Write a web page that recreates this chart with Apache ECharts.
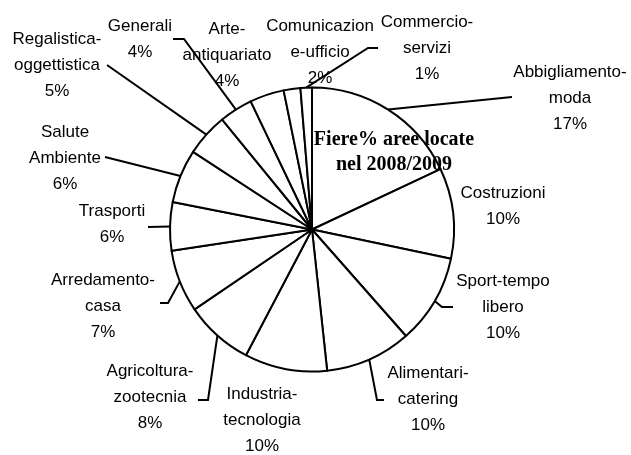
<!DOCTYPE html>
<html><head><meta charset="utf-8">
<script src="https://cdn.jsdelivr.net/npm/echarts@6/dist/echarts.min.js"></script>
<style>html,body{margin:0;padding:0;background:#fff}#c{width:631px;height:455px}</style>
</head><body><div id="c"></div>
<script>
// ---- data ----
const categories = ['Abbigliamento-\nmoda','Costruzioni','Sport-tempo\nlibero','Alimentari-\ncatering','Industria-\ntecnologia','Agricoltura-\nzootecnia','Arredamento-\ncasa','Trasporti','Salute\nAmbiente','Regalistica-\noggettistica','Generali','Arte-\nantiquariato','Comunicazion\ne-ufficio','Commercio-\nservizi'];
const shares = [18.0,10.3,10.2,9.8,9.4,7.8,7.1,5.5,6.1,4.9,3.8,3.9,1.9,1.3];
const pctLabels = ['17%','10%','10%','10%','10%','8%','7%','6%','6%','5%','4%','4%','2%','1%'];
const titleLines = ['Fiere% aree locate','nel 2008/2009'];

// ---- layout ----
const CX = 312, CY = 229.5, R = 142;
const labelBox = [[570,98],[503,206],[503,307],[428,399],[262,420],[150,397],[103,306],[112,224],[65,158],[57,65],[140,39],[227,55],[320,52],[427,48]];
const leader = [[[512,97]], null, [[442,307],[453,307]], [[377,400],[384,400]], null, [[208,400],[198,400]], [[168,303],[160,303]], [[148,227]], [[105,157]], [[107,65]], [[184,39],[173,39]], null, null, [[368,48],[378,48]]];

const total = shares.reduce((a,b)=>a+b,0);
const cum = []; let acc = 0;
shares.forEach(v => { cum.push(acc + v/2); acc += v; });
function rimPoint(i){
  const t = 2*Math.PI*cum[i]/total;
  return [CX + R*Math.sin(t), CY - R*Math.cos(t)];
}

const LABEL_FONT = "'Liberation Sans',Arial,sans-serif";
const chart = echarts.init(document.getElementById('c'), null, {renderer:'canvas'});
chart.setOption({
  backgroundColor: '#fff',
  animation: false,
  graphic: titleLines.map((t, k) => ({
    type: 'text', x: 394, y: 140 + k*25, z: 10,
    style: { text: t, font: "bold 20px 'Liberation Serif','Times New Roman',serif", align: 'center', verticalAlign: 'middle', fill: '#000' }
  })),
  series: [{
    type: 'pie',
    center: [CX, CY],
    radius: R,
    startAngle: 90,
    clockwise: true,
    avoidLabelOverlap: false,
    silent: true,
    itemStyle: { color: '#fff', borderColor: '#000', borderWidth: 2 },
    label: {
      show: true, position: 'outside', color: '#000',
      fontFamily: LABEL_FONT, fontSize: 17, lineHeight: 26,
      formatter: p => p.name + '\n' + pctLabels[p.dataIndex]
    },
    labelLine: { show: true, lineStyle: { color: '#000', width: 2 } },
    labelLayout: function (p) {
      const i = p.dataIndex;
      const out = { x: labelBox[i][0], y: labelBox[i][1], align: 'center', verticalAlign: 'middle' };
      if (leader[i]) {
        const pts = [rimPoint(i)].concat(leader[i]);
        if (pts.length === 2) pts.push(pts[1].slice());
        out.labelLinePoints = pts;
      }
      return out;
    },
    data: categories.map((c, i) => ({ name: c, value: shares[i], labelLine: { show: !!leader[i] } }))
  }]
});
</script></body></html>
